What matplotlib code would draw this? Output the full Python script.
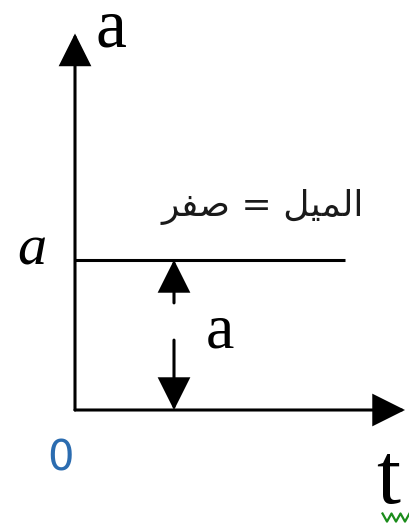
"""
Acceleration-time graph: constant acceleration, slope of the a-t line is zero.
"""

import numpy as np
import matplotlib.pyplot as plt

# ── Data ─────────────────────────────────────────────────────────────────────
t_line  = [0, 9]        # extent of the constant-acceleration line
a_const = 5             # constant acceleration value
t_max   = 11.0          # end of the time axis (arrow tip)
a_max   = 12.55         # end of the acceleration axis (arrow tip)
t_mark  = 3.3           # where the double arrow marks the height "a"

slope_label = "\uFEAE\uFED4\uFEBB = \uFEDE\uFEF4\uFEE4\uFEDF\uFE8D"   # الميل = صفر (visual order)

# ── Plot ─────────────────────────────────────────────────────────────────────
fig = plt.figure(figsize=(4.1, 5.26), dpi=100)
ax = fig.add_axes([0, 0, 1, 1])
ax.set_xlim(-2.5, 335 / 30)
ax.set_ylim(-116 / 30, 410 / 30)
ax.axis("off")

LW = 2.2
head = dict(arrowstyle="-|>,head_length=0.4,head_width=0.2", mutation_scale=50,
            lw=LW, color="black", shrinkA=0, shrinkB=0, joinstyle="miter")

# axes with arrow heads
ax.annotate("", xy=(t_max, 0), xytext=(0, 0), arrowprops=head)
ax.annotate("", xy=(0, a_max), xytext=(0, 0), arrowprops=head)

# a = const
ax.plot(t_line, [a_const, a_const], color="black", lw=LW, solid_capstyle="butt")

# double arrow showing the value a
ax.annotate("", xy=(t_mark, a_const), xytext=(t_mark, 3.57), arrowprops=head)
ax.annotate("", xy=(t_mark, 0), xytext=(t_mark, 2.33), arrowprops=head)

# labels
ax.text(0.67, 12.1, "a", fontsize=50, family="Liberation Serif",
        ha="left", va="baseline")
ax.text(4.35, 2.1, "a", fontsize=46, family="Liberation Serif",
        ha="left", va="baseline")
ax.text(-1.93, 4.85, "a", fontsize=42, family="Liberation Serif",
        style="italic", ha="left", va="baseline")
ax.text(-0.5, -2.03, "0", fontsize=30, family="DejaVu Sans", color="#2b6cb0",
        ha="center", va="baseline")
ax.text(10.05, -3.1, "t", fontsize=62, family="Liberation Serif",
        ha="left", va="baseline")
ax.text(6.27, 6.45, slope_label, fontsize=26, family=["DejaVu Sans"],
        color="#1a1a1a", ha="center", va="baseline")

# spell-check squiggle under the t label
zx = np.linspace(10.25, 11.15, 7)
zy = np.where(np.arange(7) % 2 == 0, -3.45, -3.72)
ax.plot(zx, zy, color="#1a8c1a", lw=1.6)

fig.savefig("out.png", dpi=100)
plt.close(fig)
